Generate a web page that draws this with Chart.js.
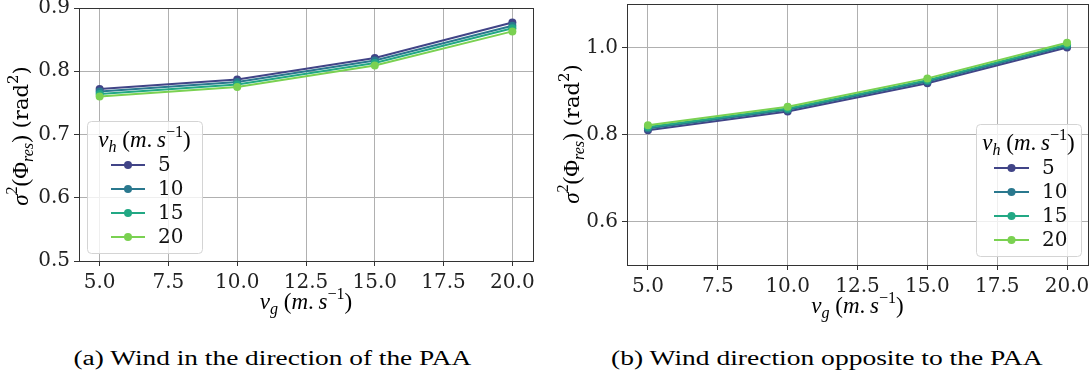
<!DOCTYPE html>
<html>
<head>
<meta charset="utf-8">
<script src="https://cdn.jsdelivr.net/npm/chart.js@4.4.1/dist/chart.umd.min.js"></script>
<style>
  body { margin: 0; background: #fff; width: 1092px; height: 380px; position: relative; overflow: hidden; }
  canvas { position: absolute; top: 0; }
  .cap { position: absolute; top: 346px; line-height: 24px; font-family: "Liberation Serif", "Times New Roman", Times, serif; font-size: 20px; white-space: nowrap; color: #000; transform-origin: center center; }
</style>
</head>
<body>
<canvas id="chartA" width="546" height="330" style="left:0"></canvas>
<canvas id="chartB" width="546" height="330" style="left:546px"></canvas>
<div class="cap" id="capA">(a) Wind in the direction of the PAA</div>
<div class="cap" id="capB">(b) Wind direction opposite to the PAA</div>
<script>
// valeurs
const vg = [5, 10, 15, 20];
const vhLabels = ['5', '10', '15', '20'];
const xTicks = [5, 7.5, 10, 12.5, 15, 17.5, 20];
const yTicksA = [0.5, 0.6, 0.7, 0.8, 0.9];
const yTicksB = [0.6, 0.8, 1.0];

// (a) vent dans la direction du PAA
const a_vh5  = [0.772, 0.787, 0.821, 0.877];
const a_vh10 = [0.768, 0.783, 0.817, 0.872];
const a_vh15 = [0.764, 0.779, 0.813, 0.868];
const a_vh20 = [0.760, 0.775, 0.809, 0.863];

// (b) vent opposé au PAA
const b_vh5  = [0.810, 0.853, 0.918, 1.000];
const b_vh10 = [0.814, 0.857, 0.922, 1.004];
const b_vh15 = [0.817, 0.860, 0.925, 1.007];
const b_vh20 = [0.821, 0.864, 0.929, 1.011];

const colors = ['#414487', '#2a788e', '#22a884', '#7ad151'];

const SERIF = '"Liberation Serif", "Times New Roman", serif';
const DEJAVU = '"DejaVu Serif", serif';

const yLabelRuns = [
  { t: 'σ', it: true }, { t: '2', k: 0.7, dy: -0.5 }, { t: '(Φ' },
  { t: 'res', it: true, k: 0.7, dy: 0.22 }, { t: ')' },
  { t: ' (rad', fam: DEJAVU, k: 0.92 }, { t: '2', fam: DEJAVU, k: 0.65, dy: -0.42 }, { t: ')', fam: DEJAVU, k: 0.92 }
];
const speedRuns = sub => [
  { t: 'v', it: true }, { t: sub, it: true, k: 0.7, dy: 0.22 }, { t: ' (' },
  { t: 'm', it: true }, { t: '.\u2009' }, { t: 's', it: true },
  { t: '\u22121', k: 0.7, dy: -0.45 }, { t: ')' }
];

function drawRuns(ctx, runs, size, x, y, angle) {
  ctx.save();
  ctx.translate(x, y);
  ctx.rotate(angle || 0);
  let total = 0;
  const parts = runs.map(r => {
    const s = size * (r.k || 1);
    const font = (r.it ? 'italic ' : '') + s + 'px ' + (r.fam || SERIF);
    ctx.font = font;
    const w = ctx.measureText(r.t).width;
    total += w;
    return { t: r.t, font, w, dy: (r.dy || 0) * size };
  });
  let cx = -total / 2;
  ctx.fillStyle = '#000';
  ctx.textAlign = 'left';
  ctx.textBaseline = 'alphabetic';
  parts.forEach(p => { ctx.font = p.font; ctx.fillText(p.t, cx, p.dy); cx += p.w; });
  ctx.restore();
}

// cadre, titres d'axes et légende façon matplotlib
const decorPlugin = {
  id: 'decor',
  afterDraw(chart) {
    const ctx = chart.ctx;
    const a = chart.chartArea;
    const L = chart.options.plugins.decor;

    ctx.save();
    ctx.strokeStyle = '#333';
    ctx.lineWidth = 1;
    ctx.strokeRect(Math.round(a.left) + 0.5, Math.round(a.top) + 0.5,
      Math.round(a.right - a.left), Math.round(a.bottom - a.top));
    ctx.restore();

    drawRuns(ctx, yLabelRuns, 23, L.yLab.x, L.yLab.y, -Math.PI / 2);
    drawRuns(ctx, speedRuns('g'), 23, (a.left + a.right) / 2, a.bottom + 48);

    // légende
    const g = L.legend;
    ctx.save();
    ctx.beginPath();
    ctx.roundRect(g.x + 0.5, g.y + 0.5, g.w, g.h, 4);
    ctx.fillStyle = 'rgba(255,255,255,0.8)';
    ctx.fill();
    ctx.strokeStyle = '#d4d4d4';
    ctx.lineWidth = 1;
    ctx.stroke();
    ctx.restore();

    drawRuns(ctx, speedRuns('h'), 23, g.x + g.w / 2, g.y + 26);

    chart.data.datasets.forEach((ds, i) => {
      const ry = g.y + g.h - 16 - 24 * (chart.data.datasets.length - 1 - i);
      ctx.save();
      ctx.strokeStyle = ds.borderColor;
      ctx.lineWidth = 2;
      ctx.beginPath();
      ctx.moveTo(g.x + g.lineX0, ry);
      ctx.lineTo(g.x + g.lineX1, ry);
      ctx.stroke();
      ctx.fillStyle = ds.borderColor;
      ctx.beginPath();
      ctx.arc(g.x + (g.lineX0 + g.lineX1) / 2, ry, 4, 0, Math.PI * 2);
      ctx.fill();
      ctx.fillStyle = '#111';
      ctx.font = '20px ' + DEJAVU;
      ctx.textAlign = 'left';
      ctx.textBaseline = 'middle';
      ctx.fillText(ds.label, g.x + g.textX, ry + 1);
      ctx.restore();
    });
  }
};

function buildChart(id, series, yMin, yMax, yTicks, L) {
  const tickFont = { family: 'DejaVu Serif', size: 20 };
  const grid = { color: '#b0b0b0', lineWidth: 1, drawTicks: true, tickLength: 5, tickColor: '#333' };
  return new Chart(document.getElementById(id), {
    type: 'line',
    data: {
      datasets: series.map((vals, i) => ({
        label: vhLabels[i],
        data: vg.map((x, j) => ({ x: x, y: vals[j] })),
        borderColor: colors[i],
        backgroundColor: colors[i],
        borderWidth: 2,
        pointRadius: 4,
        pointHoverRadius: 4,
        pointBorderWidth: 0,
        tension: 0,
        order: series.length - i
      }))
    },
    options: {
      responsive: false,
      animation: false,
      devicePixelRatio: 1,
      layout: { padding: L.pad },
      plugins: { legend: { display: false }, tooltip: { enabled: false }, decor: L },
      scales: {
        x: {
          type: 'linear', min: 4.25, max: 20.75,
          afterBuildTicks: s => { s.ticks = xTicks.map(v => ({ value: v })); },
          afterFit: s => { s.height = L.xH; s.paddingLeft = 0; s.paddingRight = 0; },
          ticks: { font: tickFont, color: '#222', padding: 5, maxRotation: 0, autoSkip: false,
                   callback: v => Number(v).toFixed(1) },
          grid: grid,
          border: { display: true, color: '#333', width: 1 }
        },
        y: {
          type: 'linear', min: yMin, max: yMax,
          afterBuildTicks: s => { s.ticks = yTicks.map(v => ({ value: v })); },
          afterFit: s => { s.width = L.yW; s.paddingTop = 0; s.paddingBottom = 0; },
          ticks: { font: tickFont, color: '#222', padding: 4, autoSkip: false,
                   callback: v => Number(v).toFixed(1) },
          grid: grid,
          border: { display: true, color: '#333', width: 1 }
        }
      }
    },
    plugins: [decorPlugin]
  });
}

buildChart('chartA', [a_vh5, a_vh10, a_vh15, a_vh20], 0.5, 0.9, yTicksA, {
  pad: { left: 0, top: 8, right: 13, bottom: 0 },
  yW: 79, xH: 69,
  yLab: { x: 28, y: 136 },
  legend: { x: 87, y: 121, w: 115, h: 132, lineX0: 24, lineX1: 58, textX: 71 }
});

buildChart('chartB', [b_vh5, b_vh10, b_vh15, b_vh20], 0.5, 1.1, yTicksB, {
  pad: { left: 0, top: 2, right: 3, bottom: 0 },
  yW: 81, xH: 65,
  yLab: { x: 33, y: 134 },
  legend: { x: 430, y: 124, w: 105, h: 132, lineX0: 18, lineX1: 53, textX: 66 }
});

// légendes (a) et (b) sous les graphiques
function placeCaption(id, center, width) {
  const el = document.getElementById(id);
  const w = el.offsetWidth;
  el.style.left = (center - w / 2) + 'px';
  el.style.transform = 'scaleX(' + (width / w).toFixed(3) + ')';
}
placeCaption('capA', 272, 398);
placeCaption('capB', 827, 432);
</script>
</body>
</html>
